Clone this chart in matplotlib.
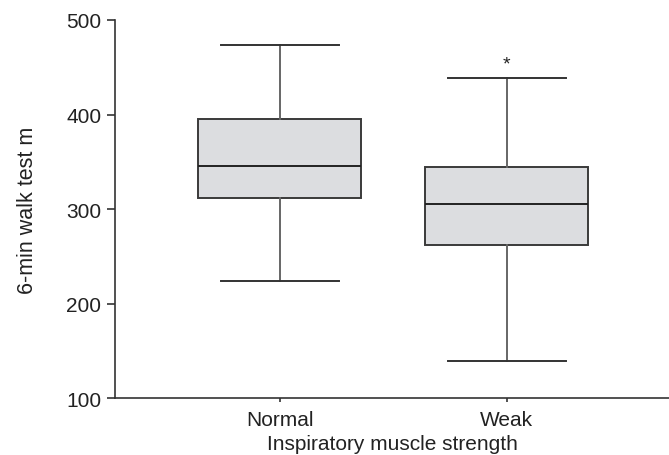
import numpy as np
import matplotlib
matplotlib.use("Agg")
import matplotlib.pyplot as plt

# valores (m)
grupos = ["Normal", "Weak"]
minimo = [224, 140]
q1 = [312, 262]
mediana = [346, 305]
q3 = [395, 345]
maximo = [474, 439]
marca = ["", "*"]

plt.rcParams["font.family"] = ["Liberation Sans", "DejaVu Sans"]
cor_texto = "#222222"

fig = plt.figure(figsize=(6.69, 4.56), dpi=100)
ax = fig.add_axes([0.172, 0.124, 0.828, 0.830])

stats = []
for i, g in enumerate(grupos):
    stats.append({"label": g, "whislo": minimo[i], "q1": q1[i], "med": mediana[i],
                  "q3": q3[i], "whishi": maximo[i]})

pos = np.arange(1, len(grupos) + 1)
ax.bxp(stats, positions=pos, widths=0.72, capwidths=0.52, showfliers=False,
       patch_artist=True,
       boxprops=dict(facecolor="#dcdde0", edgecolor="#3a3a3a", linewidth=1.4),
       whiskerprops=dict(color="#666666", linewidth=1.4),
       capprops=dict(color="#333333", linewidth=1.4),
       medianprops=dict(color="#222222", linewidth=1.4))

for i, m in enumerate(marca):
    if m:
        ax.text(pos[i], maximo[i] + 5, m, ha="center", va="bottom",
                fontsize=14, color=cor_texto)

ax.set_xlim(0.274, 2.716)
ax.set_ylim(100, 500)
ax.set_yticks([100, 200, 300, 400, 500])
ax.set_xticks(pos)
ax.set_xticklabels(grupos)

for s in ["top", "right"]:
    ax.spines[s].set_visible(False)
for s in ["left", "bottom"]:
    ax.spines[s].set_color("#333333")
    ax.spines[s].set_linewidth(1.2)

ax.tick_params(axis="both", direction="out", length=6, width=1.2,
               colors="#333333", labelcolor=cor_texto, labelsize=15, pad=4)
ax.tick_params(axis="x", length=3, pad=5)

ax.set_xlabel("Inspiratory muscle strength", fontsize=15, color=cor_texto, labelpad=4)
ax.set_ylabel("6-min walk test m", fontsize=15.5, color=cor_texto, labelpad=20)

fig.savefig("out.png", dpi=100)
